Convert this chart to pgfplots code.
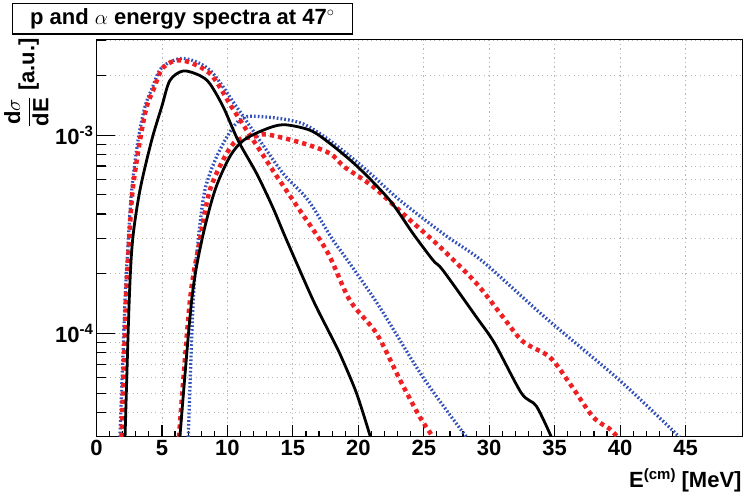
\documentclass[border=0pt]{standalone}
\usepackage{fontspec}
\setmainfont{Liberation Sans}
\usepackage{pgfplots}
\pgfplotsset{compat=1.18}
\definecolor{rred}{RGB}{238,32,36}
\definecolor{rblue}{RGB}{50,80,185}
\definecolor{gridgray}{RGB}{185,185,185}
\newcommand{\lf}{\bfseries\fontsize{22}{26}\selectfont}
\newcommand{\supf}{\bfseries\fontsize{15}{18}\selectfont}
\begin{document}
\begin{tikzpicture}
\path[use as bounding box] (-96.5pt,-60.5pt) rectangle (646.5pt,436.5pt);
\begin{axis}[
  name=ax,
  scale only axis, width=646pt, height=397pt,
  xmin=0, xmax=49.35, ymin=3.02e-5, ymax=3.04e-3,
  ymode=log,
  axis line style={line width=1.6pt},
  xtick={0,5,...,45}, minor x tick num=4,
  ytick={1e-4,1e-3},
  yticklabels={10\raisebox{8pt}{\supf -4},10\raisebox{8pt}{\supf -3}},
  minor ytick={3e-5,4e-5,5e-5,6e-5,7e-5,8e-5,9e-5,2e-4,3e-4,4e-4,5e-4,6e-4,7e-4,8e-4,9e-4,2e-3,3e-3},
  xtick pos=bottom, ytick pos=left,
  tick align=inside,
  xtick style={/pgfplots/major tick length=12pt,/pgfplots/minor tick length=6pt},
  ytick style={/pgfplots/major tick length=18pt,/pgfplots/minor tick length=9pt},
  tick style={black, line width=1.2pt},
  xmajorgrids, ymajorgrids, yminorgrids,
  grid style={gridgray, line width=0.8pt, dash pattern=on 1.3pt off 3.2pt},
  tick label style={font=\lf},
  /pgf/number format/assume math mode=true,
]
% blue proton
\addplot[rblue, line width=3.3pt, dash pattern=on 1.7pt off 2.1pt, smooth] coordinates {
(1.79,3.0e-5) (2.18,1.47e-4) (2.43,2.96e-4) (2.69,5.28e-4) (3.17,9.4e-4) (3.70,1.39e-3)
(4.24,1.72e-3) (5.0,2.2e-3) (6.63,2.44e-3) (8.66,2.13e-3) (10.7,1.39e-3) (12.48,9.4e-4)
(14.26,6.41e-4) (16.17,4.7e-4) (18.0,3.0e-4) (19.0,2.43e-4) (21.5,1.4e-4) (24.95,6.0e-5) (28.26,3.0e-5)};
% blue alpha
\addplot[rblue, line width=3.3pt, dash pattern=on 1.7pt off 2.1pt, smooth] coordinates {
(7.01,3.0e-5) (7.39,1.47e-4) (7.77,2.96e-4) (8.28,5.28e-4) (9.18,7.8e-4) (10.44,1.1e-3)
(11.47,1.24e-3) (13.76,1.22e-3) (15.79,1.14e-3) (17.82,9.4e-4) (20.37,6.9e-4) (23.17,4.7e-4)
(26.73,3.1e-4) (29.53,2.3e-4) (34.3,1.2e-4) (39.96,5.8e-5) (44.54,3.0e-5)};
% red proton
\addplot[rred, line width=4.5pt, dash pattern=on 4.3pt off 4pt, smooth] coordinates {
(1.92,3.0e-5) (2.25,1.47e-4) (2.50,2.96e-4) (2.76,5.28e-4) (3.32,9.4e-4) (3.83,1.39e-3)
(4.34,1.69e-3) (5.1,2.2e-3) (6.50,2.39e-3) (8.66,2.05e-3) (10.32,1.39e-3) (11.47,1.06e-3)
(12.48,8.4e-4) (13.63,6.41e-4) (15.2,4.5e-4) (17.6,2.6e-4) (19.35,1.47e-4) (21.39,1.0e-4)
(23.2,5.8e-5) (24.69,3.8e-5) (25.71,3.0e-5)};
% red alpha
\addplot[rred, line width=4.5pt, dash pattern=on 4.3pt off 4pt, smooth] coordinates {
(6.30,3.0e-5) (7.14,1.47e-4) (7.90,2.96e-4) (8.66,5.28e-4) (9.81,7.8e-4) (10.7,9.4e-4)
(11.95,9.8e-4) (12.99,1.01e-3) (15.79,9.1e-4) (17.82,8.1e-4) (18.97,6.9e-4) (21.13,5.5e-4)
(23.68,3.87e-4) (26.22,2.74e-4) (29.02,1.79e-4) (31.05,1.21e-4) (32.58,9.1e-5) (34.62,7.6e-5)
(36.15,5.6e-5) (37.92,3.8e-5) (39.2,3.3e-5) (39.81,3.0e-5)};
% black proton
\addplot[black, line width=2.8pt, smooth] coordinates {
(2.18,3.0e-5) (2.50,1.47e-4) (2.76,2.96e-4) (3.32,5.28e-4) (4.21,9.4e-4) (4.98,1.39e-3)
(5.61,1.89e-3) (6.63,2.11e-3) (7.9,2.0e-3) (8.66,1.82e-3) (9.68,1.39e-3) (10.82,9.4e-4)
(12.23,6.41e-4) (13.45,4.35e-4) (14.52,2.96e-4) (16.55,1.47e-4) (17.82,1.0e-4) (18.59,7.9e-5)
(19.86,5.0e-5) (20.93,3.0e-5)};
% black alpha
\addplot[black, line width=2.8pt, smooth] coordinates {
(6.37,3.0e-5) (7.27,1.47e-4) (8.05,2.96e-4) (9.05,5.28e-4) (10.19,7.8e-4) (11.21,9.4e-4)
(12.73,1.06e-3) (14.26,1.13e-3) (16.3,1.06e-3) (17.82,9.1e-4) (19.98,6.9e-4) (22.4,4.7e-4)
(24.18,3.19e-4) (25.71,2.34e-4) (26.47,2.08e-4) (29.02,1.21e-4) (30.42,8.9e-5) (32.46,5.0e-5)
(33.6,4.3e-5) (34.75,3.0e-5)};
\end{axis}
\node[draw, line width=1.2pt, fill=white, anchor=north west, minimum width=340pt,
  minimum height=30.6pt, inner sep=0pt, font=\lf] at (-84.8pt,433.6pt)
  {p and $\alpha$ energy spectra at 47$^\circ$};
\node[rotate=90, anchor=east, font=\lf, inner sep=0pt] at (-70pt,398.5pt)
  {$\displaystyle\frac{\textbf{d}\sigma}{\textbf{dE}}$ [a.u.]};
\node[anchor=base east, font=\lf, inner sep=0pt] at (645.2pt,-51.5pt)
  {E\raisebox{9pt}{\supf (cm)} [MeV]};
\end{tikzpicture}
\end{document}
